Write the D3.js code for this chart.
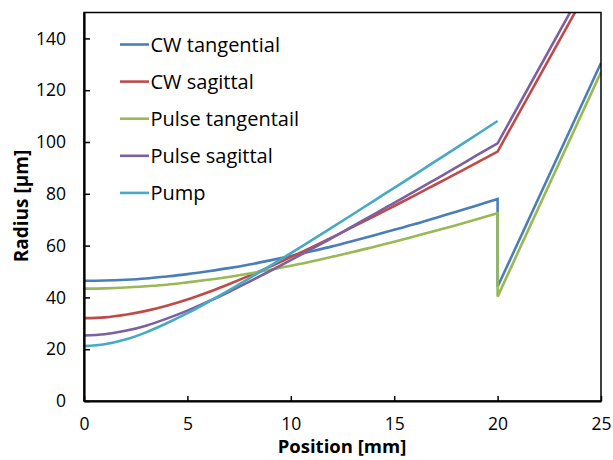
<!DOCTYPE html>
<html>
<head>
<meta charset="utf-8">
<script src="https://cdn.jsdelivr.net/npm/d3@7"></script>
<style>
  html, body { margin: 0; padding: 0; background: #fff; }
  svg { display: block; font-family: "Open Sans", "Noto Sans", sans-serif; }
</style>
</head>
<body>
<svg id="chart" width="613" height="460"></svg>
<script>
// ---- data ----
const seriesNames = ["CW tangential", "CW sagittal", "Pulse tangentail", "Pulse sagittal", "Pump"];
const seriesColors = ["#4A7EBB", "#BE4B48", "#98B954", "#7D60A0", "#46AAC5"];

const posMain = [0,1,2,3,4,5,6,7,8,9,10,11,12,13,14,15,16,17,18,19,20];
const posAfter = [20,25];

const cwTangential = [46.4,46.5,46.8,47.3,48.1,49.0,50.1,51.3,52.7,54.3,56.0,57.8,59.7,61.8,63.9,66.1,68.3,70.7,73.1,75.5,78.0];
const cwTangentialAfter = [44.1,130.5];
const cwSagittal = [32.0,32.3,33.3,34.8,36.8,39.2,42.0,45.1,48.4,51.9,55.6,59.3,63.2,67.2,71.2,75.3,79.4,83.6,87.8,92.0,96.3];
const cwSagittalAfter = [96.3,168.1];
const pulseTangential = [43.4,43.5,43.8,44.3,44.9,45.8,46.8,47.9,49.2,50.7,52.2,53.9,55.7,57.5,59.5,61.5,63.6,65.7,67.9,70.2,72.5];
const pulseTangentialAfter = [40.3,127.0];
const pulseSagittal = [25.3,25.8,27.1,29.1,31.8,34.9,38.4,42.1,46.1,50.2,54.4,58.7,63.0,67.5,72.0,76.5,81.0,85.6,90.2,94.9,99.5];
const pulseSagittalAfter = [99.5,171.6];
const pump = [21.2,21.9,23.7,26.5,30.0,33.9,38.2,42.7,47.4,52.2,57.1,62.0,67.0,72.1,77.2,82.3,87.4,92.6,97.7,102.9,108.1];
const pumpAfter = [];

const xTicks = [0,5,10,15,20,25];
const yTicks = [0,20,40,60,80,100,120,140];
const xTitle = "Position [mm]";
const yTitle = "Radius [\u00b5m]";

// ---- build series ----
function build(main, after) {
  const pts = posMain.map((x, i) => ({x, y: main[i]}));
  after.forEach((v, i) => pts.push({x: posAfter[i], y: v}));
  return pts;
}
const series = [
  build(cwTangential, cwTangentialAfter),
  build(cwSagittal, cwSagittalAfter),
  build(pulseTangential, pulseTangentialAfter),
  build(pulseSagittal, pulseSagittalAfter),
  build(pump, pumpAfter)
];

// ---- layout ----
const svg = d3.select("#chart");
const L = 84, R = 601, T = 12.5, B = 401;
const x = d3.scaleLinear().domain([0, 25]).range([L, R]);
const y = d3.scaleLinear().domain([0, 150]).range([B, T]);

svg.append("defs").append("clipPath").attr("id", "plotclip")
  .append("rect").attr("x", L).attr("y", T).attr("width", R - L).attr("height", B - T);

// series lines
const lineG = svg.append("g").attr("clip-path", "url(#plotclip)");
const lineLin = d3.line().x(d => x(d.x)).y(d => y(d.y));
const lineSmooth = d3.line().x(d => x(d.x)).y(d => y(d.y)).curve(d3.curveCatmullRom);
series.forEach((pts, i) => {
  const main = pts.slice(0, posMain.length);
  const rest = pts.slice(posMain.length - 1);
  let dStr = lineSmooth(main);
  if (rest.length > 1) dStr += lineLin(rest).replace(/^M/, "L");
  lineG.append("path")
    .attr("d", dStr)
    .attr("fill", "none")
    .attr("stroke", seriesColors[i])
    .attr("stroke-width", 2.6)
    .attr("stroke-linejoin", "miter");
});

// frame
svg.append("rect").attr("x", L).attr("y", T).attr("width", R - L).attr("height", B - T)
  .attr("fill", "none").attr("stroke", "#000").attr("stroke-width", 1.5);

// axes (ticks inside)
const xAxis = d3.axisBottom(x).tickValues(xTicks).tickSizeInner(-5).tickSizeOuter(0).tickPadding(17);
const yAxis = d3.axisLeft(y).tickValues(yTicks).tickSizeInner(-6).tickSizeOuter(0).tickPadding(18);

const gx = svg.append("g").attr("transform", `translate(0,${B})`).call(xAxis);
const gy = svg.append("g").attr("transform", `translate(${L},0)`).call(yAxis);
[gx, gy].forEach(g => {
  g.select(".domain").attr("stroke", "#000").attr("stroke-width", 2.2);
  g.selectAll(".tick line").attr("stroke", "#000").attr("stroke-width", 1.5);
  g.selectAll(".tick text").attr("fill", "#000").attr("font-size", 17.5)
    .attr("font-family", "'Open Sans', sans-serif");
});

// axis titles
svg.append("text").attr("x", 342).attr("y", 453)
  .attr("text-anchor", "middle").attr("font-weight", "bold").attr("font-size", 18.5)
  .text(xTitle);
svg.append("text").attr("transform", "translate(28,206) rotate(-90)")
  .attr("text-anchor", "middle").attr("font-weight", "bold").attr("font-size", 19)
  .text(yTitle);

// legend
const legend = svg.append("g");
seriesNames.forEach((name, i) => {
  const cy = 44.5 + i * 37.1;
  legend.append("line").attr("x1", 120).attr("x2", 149).attr("y1", cy).attr("y2", cy)
    .attr("stroke", seriesColors[i]).attr("stroke-width", 2.6);
  legend.append("text").attr("x", 150.5).attr("y", cy).attr("dy", "0.36em")
    .attr("font-size", 20).attr("fill", "#000").text(name);
});
</script>
</body>
</html>
